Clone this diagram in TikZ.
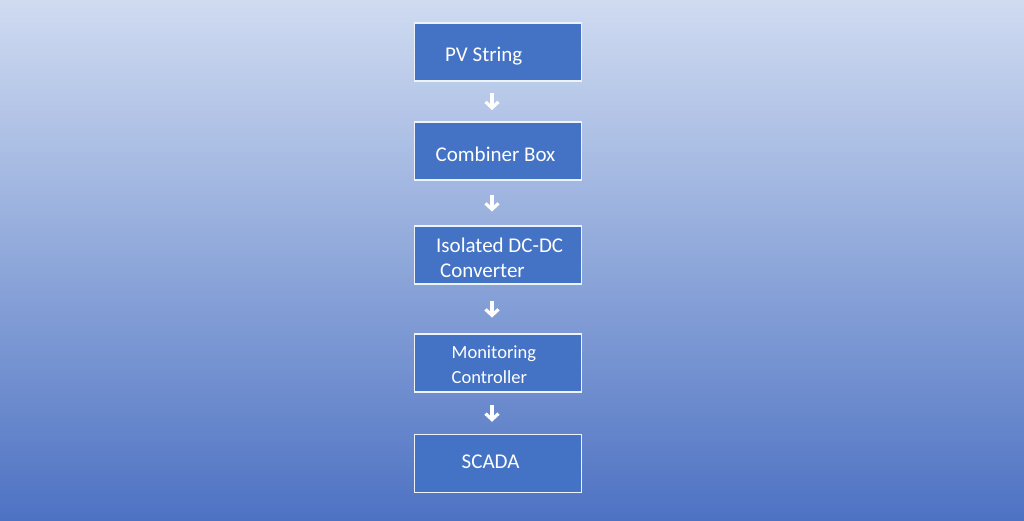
\documentclass[tikz,border=0pt]{standalone}
\usepackage{fontspec}
\setmainfont{Carlito}
\usetikzlibrary{arrows.meta,calc}
\definecolor{bgtop}{HTML}{D0DBF1}
\definecolor{bgmid}{HTML}{8FA8DA}
\definecolor{bgbot}{HTML}{4E72C3}
\definecolor{boxfill}{HTML}{4472C4}
\definecolor{boxline}{HTML}{EEF2FA}
\tikzset{
  stagebox/.style={draw=boxline, line width=1.5pt, fill=boxfill, minimum width=167pt, minimum height=58pt, inner sep=0pt},
  lbl/.style={text=white, anchor=west, inner sep=0pt, font=\fontsize{21pt}{25pt}\selectfont},
  lblsmall/.style={text=white, anchor=west, inner sep=0pt, font=\fontsize{18.5pt}{22pt}\selectfont},
  flow/.style={draw=white, line width=3.2pt, -{Straight Barb[length=6pt,width=13pt,line width=3.2pt]}},
}
\begin{document}
\begin{tikzpicture}[x=1pt,y=-1pt]
\useasboundingbox (0,0) rectangle (1024,520);
\shade[top color=bgtop, bottom color=bgbot, middle color=bgmid] (0,0) rectangle (1024,520);
\node[stagebox] (b1) at (498,52) {};
\node[stagebox] (b2) at (498,151) {};
\node[stagebox] (b3) at (498,255) {};
\node[stagebox] (b4) at (498,363) {};
\node[stagebox] (b5) at (498,463.5) {};
\node[lbl] (t1) at (445,56) {PV String};
\node[lbl] (t2) at (435.5,154) {Combiner Box};
\node[lbl] (t3a) at (436,245.5) {Isolated DC-DC};
\node[lbl] (t3b) at (440,271) {Converter};
\node[lblsmall] (t4a) at (451.5,353.5) {Monitoring};
\node[lblsmall] (t4b) at (451.5,377) {Controller};
\node[lbl] (t5) at (461.5,462) {SCADA};
\foreach \a/\b in {b1/b2,b2/b3,b3/b4,b4/b5}{
  \coordinate (m\a) at ($(\a.south)!0.5!(\b.north)+(-6,0)$);
  \coordinate (s\a) at ($(m\a)+(0,-8.5)$);
  \coordinate (e\a) at ($(m\a)+(0,8.5)$);
  \draw[flow] (s\a) -- (e\a);
}
\end{tikzpicture}
\end{document}
